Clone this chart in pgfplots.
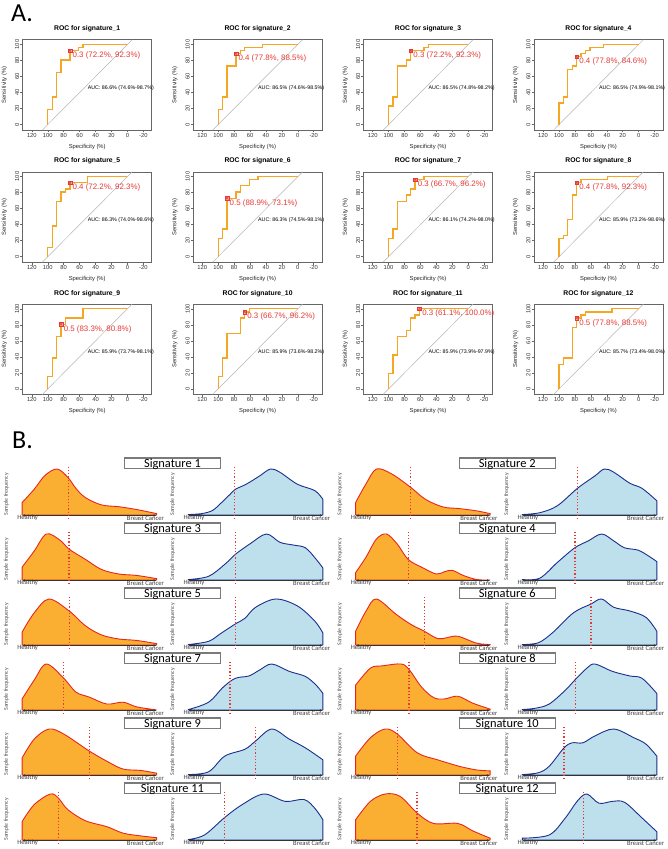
\documentclass[border=0pt]{standalone}
\usepackage{pgfplots}
\pgfplotsset{compat=1.18}
\usepackage{fontspec}
\setmainfont{Liberation Sans}
\newfontfamily\calibri{Carlito}
\usetikzlibrary{arrows.meta}

\definecolor{roccol}{HTML}{F5A623}
\definecolor{rocred}{HTML}{E53935}
\definecolor{diagcol}{HTML}{B4B4B4}
\definecolor{framecol}{HTML}{666666}
\definecolor{ofill}{HTML}{FAAF32}
\definecolor{odraw}{HTML}{E8251F}
\definecolor{bfill}{HTML}{BEDFEC}
\definecolor{bdraw}{HTML}{1C2E8C}
\definecolor{sigframe}{HTML}{7A7A7A}

\pgfplotsset{
  rocax/.style={anchor=north west, width=129pt, height=90.5pt, scale only axis,
    xmin=-30.5, xmax=131.5, x dir=reverse, ymin=-7, ymax=106,
    xtick={-20,0,20,40,60,80,100,120}, xticklabels={-20,0,20,40,60,80,100,120},
    ytick={0,20,40,60,80,100}, yticklabels={0,20,40,60,80,100},
    tick pos=left, tick align=outside, major tick length=2.2pt,
    axis line style={framecol, line width=0.6pt},
    every tick/.style={framecol, line width=0.5pt},
    tick label style={font=\fontsize{5.8}{6.5}\selectfont, text=black!80, inner sep=1pt},
    yticklabel style={rotate=90, anchor=south},
    xlabel={Specificity (\%)}, ylabel={Sensitivity (\%)},
    label style={font=\fontsize{5.8}{6.5}\selectfont, text=black!85},
    xlabel style={at={(axis description cs:0.5,0)}, anchor=base, yshift=-18pt, inner sep=0},
    ylabel style={at={(axis description cs:-0.1295,0.5)}, anchor=base, inner sep=0},
    title style={at={(axis description cs:0.5,1)}, anchor=base, yshift=3pt, inner sep=0,
      font=\bfseries\fontsize{6.8}{7}\selectfont},
    clip=false},
  densax/.style={anchor=south west, width=134.5pt, height=46pt, scale only axis,
    xmin=0, xmax=1, ymin=0, ymax=1, hide axis, clip=false}
}

% #1 left, #2 top, #3 number, #4 coords, #5 tx, #6 ty, #7 label, #8 auc
\newcommand\roc[8]{%
\begin{axis}[rocax, at={(#1pt,-#2pt)}, title={ROC for signature\_#3}]
\addplot[diagcol, line width=0.5pt] coordinates {(107,-7) (-6,106)};
\addplot[roccol, line width=1.3pt] coordinates {#4};
\addplot[only marks, mark=square*, mark size=1.9pt, mark options={draw=rocred, fill=rocred!45, line width=0.5pt}] coordinates {(#5,#6)};
\addplot[only marks, mark=x, mark size=1.9pt, mark options={rocred, line width=0.5pt}] coordinates {(#5,#6)};
\node[anchor=north west, inner sep=0, xshift=2.5pt, yshift=-1.2pt, text=rocred, font=\fontsize{7.9}{8}\selectfont] at (axis cs:#5,#6) {#7};
\node[anchor=west, inner sep=0, font=\fontsize{5.3}{6}\selectfont] at (axis cs:50,46) {#8};
\end{axis}}

% #1 left, #2 baseline, #3 fill, #4 draw, #5 coords, #6 threshold
\newcommand\dens[6]{%
\begin{axis}[densax, at={(#1pt,-#2pt)}]
\addplot[fill=#3, draw=#4, line width=0.9pt, smooth, tension=0.55] coordinates {#5} \closedcycle;
\node[anchor=west, inner sep=0, font=\calibri\fontsize{6.6}{7}\selectfont, text=black!75] at (axis cs:-0.037,-0.07) {Healthy};
\node[anchor=east, inner sep=0, font=\calibri\fontsize{6.6}{7}\selectfont, text=black!75] at (axis cs:1.056,-0.07) {Breast Cancer};
\draw[{Latex[length=3pt,width=2.6pt]}-{Latex[length=3pt,width=2.6pt]}, line width=0.9pt, black!80] (axis cs:0,-0.01) -- (axis cs:1,-0.01);
\addplot[rocred, line width=1.3pt, dash pattern=on 1.1pt off 2.1pt] coordinates {(#6,-0.09) (#6,1.04)};
\node[rotate=90, inner sep=0, font=\calibri\fontsize{5.8}{6}\selectfont, text=black!70] at (axis cs:-0.117,0.45) {Sample frequency};
\end{axis}}

% #1 center x, #2 baseline, #3 text
\newcommand\sigbox[3]{%
\draw[sigframe, line width=1.1pt, fill=white] (#1-48,-#2+57) rectangle (#1+48,-#2+46.5);
\node[anchor=base, inner sep=0, font=\calibri\fontsize{12.4}{13}\selectfont] at (#1,-#2+47.6) {#3};}

\begin{document}
\begin{tikzpicture}[x=1pt,y=1pt]
\path[use as bounding box] (0,0) rectangle (667,-849);

\node[anchor=base west, inner sep=0, font=\calibri\fontsize{26}{26}\selectfont] at (11,-21.7) {A.};
\node[anchor=base west, inner sep=0, font=\calibri\fontsize{26}{26}\selectfont] at (12,-448.5) {B.};

% ---------------- Part A: ROC ----------------
\roc{22.7}{39.7}{1}{(100,0)(100,19.2)(94.4,19.2)(94.4,34.6)(88.9,34.6)(88.9,65.4)(83.3,65.4)(83.3,80.8)(72.2,80.8)(72.2,92.3)(61.1,92.3)(61.1,96.2)(55.6,96.2)(55.6,100)(0,100)}{72.2}{92.3}{0.3 (72.2\%, 92.3\%)}{AUC: 86.6\% (74.6\%-98.7\%)}
\roc{193.1}{39.7}{2}{(100,0)(100,19.2)(94.4,19.2)(94.4,34.6)(88.9,34.6)(88.9,73.1)(77.8,73.1)(77.8,88.5)(72.2,88.5)(72.2,92.3)(66.7,92.3)(66.7,96.2)(44.4,96.2)(44.4,100)(0,100)}{77.8}{88.5}{0.4 (77.8\%, 88.5\%)}{AUC: 86.5\% (74.6\%-98.5\%)}
\roc{363.5}{39.7}{3}{(100,0)(100,23.1)(94.4,23.1)(94.4,34.6)(88.9,34.6)(88.9,73.1)(77.8,73.1)(77.8,80.8)(72.2,80.8)(72.2,92.3)(55.6,92.3)(55.6,96.2)(50,96.2)(50,100)(0,100)}{72.2}{92.3}{0.3 (72.2\%, 92.3\%)}{AUC: 86.5\% (74.8\%-98.2\%)}
\roc{533.9}{39.7}{4}{(100,0)(100,26.9)(94.4,26.9)(94.4,34.6)(88.9,34.6)(88.9,69.2)(83.3,69.2)(83.3,73.1)(77.8,73.1)(77.8,84.6)(72.2,84.6)(72.2,88.5)(66.7,88.5)(66.7,92.3)(61.1,92.3)(61.1,96.2)(44.4,96.2)(44.4,100)(0,100)}{77.8}{84.6}{0.4 (77.8\%, 84.6\%)}{AUC: 86.5\% (74.9\%-98.1\%)}

\roc{22.7}{171.8}{5}{(100,0)(100,11.5)(94.4,11.5)(94.4,38.5)(88.9,38.5)(88.9,69.2)(83.3,69.2)(83.3,80.8)(77.8,80.8)(77.8,84.6)(72.2,84.6)(72.2,92.3)(50,92.3)(50,100)(0,100)}{72.2}{92.3}{0.4 (72.2\%, 92.3\%)}{AUC: 86.3\% (74.0\%-98.6\%)}
\roc{193.1}{171.8}{6}{(100,0)(100,23.1)(94.4,23.1)(94.4,34.6)(88.9,34.6)(88.9,73.1)(77.8,73.1)(77.8,80.8)(72.2,80.8)(72.2,88.5)(61.1,88.5)(61.1,96.2)(50,96.2)(50,100)(0,100)}{88.9}{73.1}{0.5 (88.9\%, 73.1\%)}{AUC: 86.3\% (74.5\%-98.1\%)}
\roc{363.5}{171.8}{7}{(100,0)(100,23.1)(94.4,23.1)(94.4,34.6)(88.9,34.6)(88.9,69.2)(77.8,69.2)(77.8,76.9)(72.2,76.9)(72.2,84.6)(66.7,84.6)(66.7,96.2)(55.6,96.2)(55.6,100)(0,100)}{66.7}{96.2}{0.3 (66.7\%, 96.2\%)}{AUC: 86.1\% (74.2\%-98.0\%)}
\roc{533.9}{171.8}{8}{(100,0)(100,23.1)(94.4,23.1)(94.4,26.9)(88.9,26.9)(88.9,46.2)(83.3,46.2)(83.3,76.9)(77.8,76.9)(77.8,92.3)(72.2,92.3)(72.2,96.2)(38.9,96.2)(38.9,100)(0,100)}{77.8}{92.3}{0.4 (77.8\%, 92.3\%)}{AUC: 85.9\% (73.2\%-98.6\%)}

\roc{22.7}{304}{9}{(100,0)(100,15.4)(94.4,15.4)(94.4,38.5)(88.9,38.5)(88.9,65.4)(83.3,65.4)(83.3,80.8)(77.8,80.8)(77.8,88.5)(55.6,88.5)(55.6,100)(0,100)}{83.3}{80.8}{0.5 (83.3\%, 80.8\%)}{AUC: 85.9\% (73.7\%-98.1\%)}
\roc{193.1}{304}{10}{(100,0)(100,15.4)(94.4,15.4)(94.4,38.5)(88.9,38.5)(88.9,69.2)(72.2,69.2)(72.2,88.5)(66.7,88.5)(66.7,96.2)(61.1,96.2)(61.1,100)(0,100)}{66.7}{96.2}{0.3 (66.7\%, 96.2\%)}{AUC: 85.9\% (73.6\%-98.2\%)}
\roc{363.5}{304}{11}{(100,0)(100,19.2)(94.4,19.2)(94.4,42.3)(88.9,42.3)(88.9,65.4)(77.8,65.4)(77.8,73.1)(72.2,73.1)(72.2,88.5)(66.7,88.5)(66.7,92.3)(61.1,92.3)(61.1,100)(0,100)}{61.1}{100}{0.3 (61.1\%, 100.0\%)}{AUC: 85.9\% (73.9\%-97.9\%)}
\roc{533.9}{304}{12}{(100,0)(100,30.8)(94.4,30.8)(94.4,38.5)(83.3,38.5)(83.3,76.9)(77.8,76.9)(77.8,88.5)(72.2,88.5)(72.2,92.3)(66.7,92.3)(66.7,96.2)(33.3,96.2)(33.3,100)(0,100)}{77.8}{88.5}{0.5 (77.8\%, 88.5\%)}{AUC: 85.7\% (73.4\%-98.0\%)}

% ---------------- Part B: densities ----------------
% row 1
\dens{22.1}{515}{ofill}{odraw}{(0,0.27)(0.09,0.56)(0.17,0.86)(0.26,1.0)(0.34,0.82)(0.4,0.58)(0.47,0.38)(0.59,0.22)(0.72,0.18)(0.85,0.12)(1,0.03)}{0.345}
\dens{188.4}{515}{bfill}{bdraw}{(0,0.01)(0.1,0.03)(0.18,0.1)(0.25,0.28)(0.31,0.45)(0.35,0.56)(0.43,0.67)(0.53,0.85)(0.61,1.0)(0.68,0.93)(0.81,0.67)(0.94,0.53)(1,0.34)}{0.345}
\dens{355.6}{515}{ofill}{odraw}{(0,0.27)(0.076,0.67)(0.155,1.0)(0.27,0.89)(0.41,0.6)(0.52,0.34)(0.65,0.175)(0.77,0.14)(0.9,0.09)(1,0.03)}{0.41}
\dens{522.3}{515}{bfill}{bdraw}{(0,0.01)(0.13,0.05)(0.26,0.2)(0.41,0.58)(0.54,0.85)(0.61,1.0)(0.68,0.93)(0.8,0.69)(0.89,0.58)(1,0.31)}{0.41}
% row 2
\dens{22.1}{580}{ofill}{odraw}{(0,0.28)(0.09,0.63)(0.18,1.0)(0.28,0.87)(0.35,0.67)(0.47,0.45)(0.59,0.23)(0.72,0.13)(0.85,0.1)(1,0.03)}{0.348}
\dens{188.4}{580}{bfill}{bdraw}{(0,0.01)(0.15,0.08)(0.27,0.34)(0.35,0.56)(0.46,0.79)(0.58,1.0)(0.68,0.82)(0.78,0.76)(0.87,0.7)(0.95,0.45)(1,0.26)}{0.348}
\dens{355.6}{580}{ofill}{odraw}{(0,0.16)(0.076,0.49)(0.155,0.89)(0.23,1.0)(0.31,0.78)(0.39,0.45)(0.49,0.28)(0.6,0.13)(0.66,0.18)(0.72,0.21)(0.8,0.1)(0.9,0.01)(1,0.0)}{0.392}
\dens{522.3}{580}{bfill}{bdraw}{(0,0.01)(0.13,0.04)(0.26,0.38)(0.39,0.7)(0.49,0.85)(0.59,1.0)(0.68,0.85)(0.76,0.7)(0.86,0.65)(0.94,0.52)(1,0.4)}{0.392}
% row 3
\dens{22.1}{645}{ofill}{odraw}{(0,0.28)(0.09,0.7)(0.2,1.0)(0.35,0.74)(0.47,0.42)(0.59,0.22)(0.72,0.13)(0.85,0.1)(1,0.03)}{0.352}
\dens{188.4}{645}{bfill}{bdraw}{(0,0.01)(0.15,0.08)(0.24,0.25)(0.35,0.46)(0.42,0.58)(0.5,0.82)(0.65,1.0)(0.81,0.85)(0.94,0.52)(1,0.26)}{0.352}
\dens{355.6}{645}{ofill}{odraw}{(0,0.3)(0.08,0.75)(0.155,1.0)(0.3,0.67)(0.41,0.45)(0.51,0.3)(0.61,0.14)(0.68,0.16)(0.76,0.19)(0.9,0.04)(1,0.01)}{0.51}
\dens{522.3}{645}{bfill}{bdraw}{(0,0.01)(0.12,0.05)(0.23,0.28)(0.38,0.7)(0.51,0.89)(0.59,1.0)(0.68,0.82)(0.8,0.74)(0.92,0.6)(1,0.3)}{0.51}
% row 4
\dens{22.1}{710}{ofill}{odraw}{(0,0.24)(0.09,0.65)(0.18,1.0)(0.31,0.69)(0.4,0.39)(0.5,0.28)(0.63,0.13)(0.75,0.17)(0.85,0.07)(1,0)}{0.31}
\dens{188.4}{710}{bfill}{bdraw}{(0,0.01)(0.15,0.17)(0.26,0.5)(0.35,0.69)(0.45,0.74)(0.53,0.87)(0.62,1.0)(0.75,0.84)(0.87,0.73)(0.95,0.54)(1,0.36)}{0.31}
\dens{355.6}{710}{ofill}{odraw}{(0,0.54)(0.11,0.91)(0.2,0.96)(0.34,1.0)(0.4,0.87)(0.49,0.5)(0.58,0.27)(0.66,0.24)(0.76,0.3)(0.87,0.15)(1,0.02)}{0.397}
\dens{522.3}{710}{bfill}{bdraw}{(0,0.01)(0.1,0.04)(0.2,0.13)(0.32,0.43)(0.39,0.65)(0.48,0.91)(0.54,1.0)(0.67,0.84)(0.8,0.74)(0.89,0.69)(1,0.36)}{0.397}
% row 5
\dens{22.1}{775}{ofill}{odraw}{(0,0.37)(0.09,0.78)(0.2,1.0)(0.31,0.89)(0.5,0.52)(0.63,0.3)(0.75,0.13)(0.88,0.1)(1,0.04)}{0.5}
\dens{188.4}{775}{bfill}{bdraw}{(0,0.01)(0.15,0.07)(0.27,0.41)(0.42,0.56)(0.5,0.74)(0.62,1.0)(0.75,0.78)(0.87,0.59)(1,0.33)}{0.5}
\dens{355.6}{775}{ofill}{odraw}{(0,0.41)(0.11,0.81)(0.22,1.0)(0.31,0.89)(0.46,0.48)(0.61,0.33)(0.77,0.19)(0.9,0.11)(1,0.09)}{0.31}
\dens{522.3}{775}{bfill}{bdraw}{(0,0.01)(0.12,0.05)(0.2,0.19)(0.31,0.59)(0.37,0.7)(0.45,0.7)(0.54,0.85)(0.68,1.0)(0.83,0.81)(0.92,0.67)(1,0.41)}{0.31}
% row 6
\dens{22.1}{840}{ofill}{odraw}{(0,0.4)(0.09,0.77)(0.21,1.0)(0.27,0.91)(0.34,0.66)(0.47,0.42)(0.63,0.29)(0.75,0.15)(0.88,0.09)(1,0.05)}{0.27}
\dens{188.4}{840}{bfill}{bdraw}{(0,0.01)(0.12,0.11)(0.27,0.49)(0.4,0.77)(0.56,1.0)(0.72,0.84)(0.86,0.88)(0.94,0.69)(1,0.44)}{0.27}
\dens{355.6}{840}{ofill}{odraw}{(0,0.44)(0.11,0.84)(0.22,1.0)(0.33,0.95)(0.46,0.58)(0.58,0.36)(0.76,0.36)(0.87,0.2)(1,0.04)}{0.456}
\dens{522.3}{840}{bfill}{bdraw}{(0,0.04)(0.2,0.11)(0.32,0.48)(0.41,0.85)(0.48,1.0)(0.57,0.8)(0.67,0.84)(0.76,0.82)(0.89,0.48)(1,0.18)}{0.456}

% signature boxes
\sigbox{172.5}{515}{Signature 1}
\sigbox{507.2}{515}{Signature 2}
\sigbox{172.5}{580}{Signature 3}
\sigbox{507.2}{580}{Signature 4}
\sigbox{172.5}{645}{Signature 5}
\sigbox{507.2}{645}{Signature 6}
\sigbox{172.5}{710}{Signature 7}
\sigbox{507.2}{710}{Signature 8}
\sigbox{172.5}{775}{Signature 9}
\sigbox{507.2}{775}{Signature 10}
\sigbox{172.5}{840}{Signature 11}
\sigbox{507.2}{840}{Signature 12}
\end{tikzpicture}
\end{document}
